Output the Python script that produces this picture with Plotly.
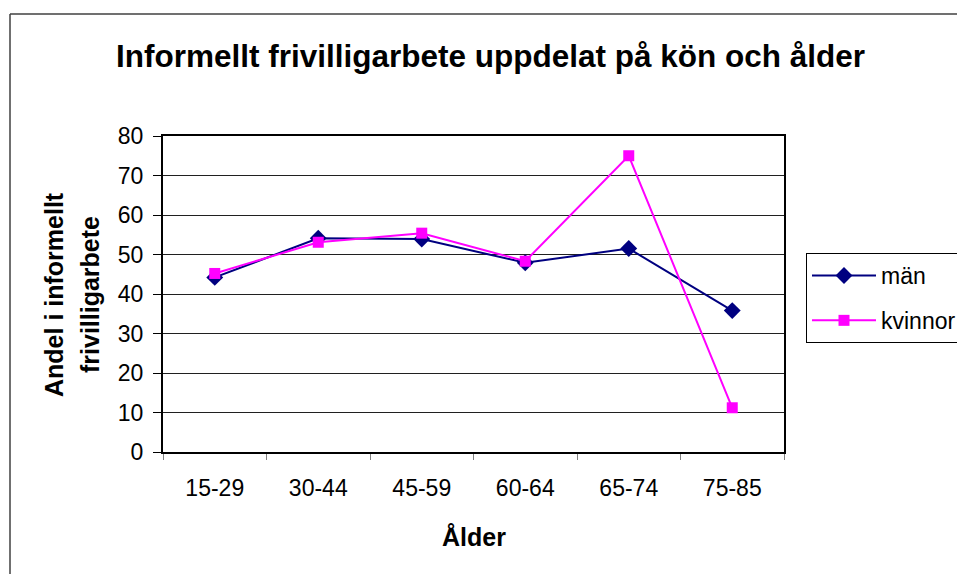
import plotly.graph_objects as go

categories = ["15-29", "30-44", "45-59", "60-64", "65-74", "75-85"]
man = [44.2, 54.1, 53.9, 47.9, 51.5, 35.8]
kvinnor = [45.2, 53.1, 55.4, 48.3, 75.0, 11.2]
y_ticks = [0, 10, 20, 30, 40, 50, 60, 70, 80]

FONT = "Liberation Sans, Arial, sans-serif"
W, H = 957, 574
# plot area in page pixels
L, R, T, B = 163, 784, 136, 452

fig = go.Figure()
fig.add_trace(go.Scatter(
    x=categories, y=man, name="män", mode="lines+markers",
    line=dict(color="#000080", width=2),
    marker=dict(symbol="diamond", size=13, color="#000080"),
    legendgroup="a", cliponaxis=False,
))
fig.add_trace(go.Scatter(
    x=categories, y=kvinnor, name="kvinnor", mode="lines+markers",
    line=dict(color="#FF00FF", width=2),
    marker=dict(symbol="square", size=11, color="#FF00FF"),
    legendgroup="b", cliponaxis=False,
))

def px(xp):
    return (xp - L) / (R - L)

def py(yp):
    return (B - yp) / (B - T)

fig.update_layout(
    width=W, height=H,
    margin=dict(l=L, r=W - R, t=T, b=H - B, pad=0, autoexpand=False),
    paper_bgcolor="white", plot_bgcolor="white",
    font=dict(family=FONT, size=23, color="black"),
    showlegend=True,
    legend=dict(
        x=px(806), y=py(253), xanchor="left", yanchor="top",
        bgcolor="white", bordercolor="black", borderwidth=1,
        font=dict(family=FONT, size=23, color="black"),
        tracegroupgap=12, traceorder="grouped", itemwidth=64,
    ),
    xaxis=dict(
        type="category", categoryorder="array", categoryarray=categories,
        range=[-0.5, len(categories) - 0.5],
        showgrid=False, tickson="boundaries", ticks="outside", ticklen=6,
        tickcolor="#808080", tickwidth=1, ticklabelstandoff=14,
        showline=True, linecolor="black", linewidth=2, mirror=True,
        tickfont=dict(family=FONT, size=23), zeroline=False,
    ),
    yaxis=dict(
        range=[0, 80], tickvals=y_ticks, ticks="outside", ticklen=8,
        tickcolor="black", tickwidth=1, ticklabelstandoff=5,
        showgrid=True, gridcolor="#202020", gridwidth=1,
        showline=True, linecolor="black", linewidth=2, mirror=True,
        tickfont=dict(family=FONT, size=23), zeroline=False,
    ),
    shapes=[
        dict(type="line", xref="paper", yref="paper",
             x0=px(10), x1=px(1100), y0=py(14), y1=py(14),
             line=dict(color="#404040", width=1.5), layer="below"),
        dict(type="line", xref="paper", yref="paper",
             x0=px(10), x1=px(10), y0=py(14), y1=py(700),
             line=dict(color="#404040", width=1.5), layer="below"),
    ],
    annotations=[
        dict(text="<b>Informellt frivilligarbete uppdelat på kön och ålder</b>",
             xref="paper", yref="paper", x=px(490), y=py(56),
             xanchor="center", yanchor="middle", showarrow=False,
             font=dict(family=FONT, size=31.5, color="black")),
        dict(text="<b>Ålder</b>", xref="paper", yref="paper",
             x=px(473.5), y=py(537), xanchor="center", yanchor="middle",
             showarrow=False, font=dict(family=FONT, size=25, color="black")),
        dict(text="<b>Andel i informellt</b>", xref="paper", yref="paper",
             x=px(54), y=py(295), xanchor="center", yanchor="middle",
             textangle=-90, showarrow=False,
             font=dict(family=FONT, size=25, color="black")),
        dict(text="<b>frivilligarbete</b>", xref="paper", yref="paper",
             x=px(90), y=py(295), xanchor="center", yanchor="middle",
             textangle=-90, showarrow=False,
             font=dict(family=FONT, size=25, color="black")),
    ],
)

fig.write_html(
    "out.html",
    config={"displayModeBar": False},
    post_script="document.body.style.margin='0';document.body.style.overflow='hidden';",
)
